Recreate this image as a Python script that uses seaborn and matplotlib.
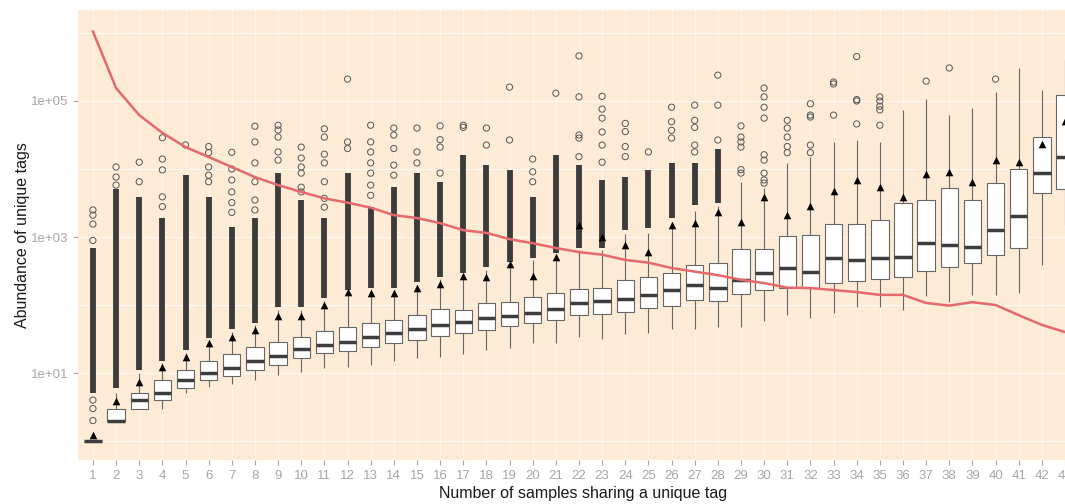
import numpy as np
import pandas as pd
import seaborn as sns
import matplotlib.pyplot as plt
from matplotlib.ticker import NullFormatter

plt.rcParams['font.family'] = ['Liberation Sans', 'DejaVu Sans']

samples = [str(i) for i in range(1, 44)]

# box statistics (per category)
whisker_low = [1, 2, 3, 3, 5, 6.3, 7, 8, 9.4, 10.5, 11.8, 12.3, 13, 14.8, 16.5, 17.4, 19, 22, 23.5, 27.6,
               27.6, 34, 32, 37, 39, 45, 45, 48, 48, 58, 71, 65, 76, 93, 93, 85, 135, 110, 141, 141,
               148, 390, 1500]
q1 = [1, 2, 3, 4, 6, 8, 9, 11, 13, 16.5, 19.6, 21, 24, 27.6, 31, 35, 39, 43, 49, 55,
      61, 71, 74, 79, 91, 97, 117, 115, 145, 166, 180, 180, 210, 225, 245, 255, 320, 360, 420, 550,
      690, 4500, 5100]
median = [1, 2, 4, 5, 8, 10, 12, 15, 18, 22.6, 26, 29, 34, 39, 45, 51, 56, 65, 69, 76,
          87, 107, 115, 123, 141, 166, 195, 180, 235, 295, 350, 310, 490, 460, 490, 510, 810, 760, 705, 1260,
          2050, 8700, 15000]
q3 = [1, 3, 5, 8, 11, 15, 19, 24, 29, 34, 41, 48, 55, 61, 71, 87, 85, 107, 110, 131,
      150, 170, 180, 235, 260, 295, 390, 420, 660, 660, 1030, 1070, 1550, 1550, 1780, 3160, 3450, 5300, 3450, 6200,
      10000, 29500, 122000]
whisker_high = [1, 5, 10, 14, 20, 30, 40, 50, 85, 85, 115, 150, 165, 165, 200, 240, 270, 330, 400, 460,
                540, 650, 650, 1100, 1150, 1600, 2400, 2900, 6500, 5200, 12300, 15000, 25000, 26700, 25000,
                74000, 107000, 62000, 79000, 135000, 306000, 145000, 400000]
mean_abundance = [1.23, 3.9, 7.4, 12.3, 17.4, 27.6, 34, 43, 69, 69, 100, 158, 150, 150, 175, 205, 270, 260, 400, 270,
                  500, 1500, 1000, 760, 600, 1500, 1600, 2300, 1660, 3900, 2100, 2900, 4800, 6900, 5500, 3900,
                  8500, 9100, 6500, 13500, 12600, 23300, 50000]

# stretches where outlier circles pile up into a solid column
dense_low = [5, 6, 11, 15, 22, 33, 45, 55, 93, 93, 126, 166, 180, 180, 220, 260, 295, 360, 430, 490,
             575, 700, 690, 1260, 1350, 1900, 2950, 3200] + [np.nan] * 15
dense_high = [700, 5000, 3900, 1900, 8100, 3900, 1400, 1900, 8700, 3500, 1900, 8700, 2750, 5400, 8700, 6500,
              16000, 11400, 9700, 3900, 16000, 11400, 6900, 7600, 9800, 12300, 12300, 20000] + [np.nan] * 15

# separate outlier circles
outliers = [
    [2, 3, 4, 890, 1550, 2100, 2500],
    [5800, 7600, 10700],
    [6500, 12600],
    [2800, 3900, 9700, 14000, 28800],
    [22600],
    [6500, 8100, 10700, 17400, 21400],
    [2300, 3200, 4600, 6900, 10000, 17600],
    [2500, 3500, 6500, 12300, 25000, 42600],
    [13500, 17800, 29500, 37500, 44000],
    [4600, 5400, 8700, 10700, 14500, 21000],
    [2750, 3700, 6500, 12300, 16500, 29500, 39000],
    [20000, 25000, 210000],
    [4100, 5800, 8700, 12300, 17800, 25000, 44000],
    [8100, 11400, 20000, 31600, 40000],
    [12300, 17800, 40000],
    [8700, 21000, 27000, 43000],
    [41000, 44000],
    [22500, 40000],
    [26700, 160000],
    [6500, 9100, 14000],
    [130000],
    [15200, 28500, 31600, 115000, 460000],
    [12600, 22500, 35000, 56000, 76000, 117000],
    [15200, 21400, 35500, 46800],
    [17800],
    [28500, 37000, 49600, 81000],
    [17800, 22500, 41000, 52000, 87000],
    [26700, 87000, 240000],
    [8700, 9800, 21000, 25000, 29500, 43000],
    [6200, 6900, 8700, 13500, 16200, 56000, 81000, 115000, 155000],
    [17400, 21400, 29500, 40000, 52000],
    [17400, 22500, 58000, 62000, 91000],
    [62000, 178000, 190000],
    [46000, 100000, 105000, 450000],
    [44000, 74000, 84000, 100000, 115000],
    [],
    [196000],
    [306000],
    [],
    [210000],
    [],
    [],
    [],
]

# red line: number of unique tags per group
unique_tags = [1050000, 155000, 62000, 34000, 21000, 15000, 10700, 7600, 5800, 4600, 3700, 3200, 2700, 2100,
               1900, 1600, 1260, 1150, 930, 810, 690, 600, 550, 460, 420, 350, 310, 275, 235, 210, 180, 178,
               166, 155, 141, 141, 107, 98, 110, 100, 71, 51, 40]

rows = []
for i, s in enumerate(samples):
    for v in (whisker_low[i], q1[i], median[i], q3[i], whisker_high[i]):
        rows.append((s, v))
box_df = pd.DataFrame(rows, columns=['samples', 'abundance'])

pos = np.arange(len(samples))
out_x = [i for i, vals in enumerate(outliers) for v in vals]
out_y = [v for vals in outliers for v in vals]

fig = plt.figure(figsize=(10.65, 5.04), dpi=100)
ax = fig.add_axes([78 / 1065, 44 / 504, 987 / 1065, 450 / 504])
ax.set_facecolor('#FDEBD5')

sns.boxplot(data=box_df, x='samples', y='abundance', order=samples, color='white',
            linecolor='#666666', linewidth=0.8, width=0.75, whis=(0, 100), showfliers=False,
            showcaps=False, log_scale=True,
            medianprops=dict(color='#3d3d3d', linewidth=2.5), ax=ax)

ax.vlines(pos, dense_low, dense_high, color='#3c3c3c', lw=4.2, zorder=3)
sns.scatterplot(x=out_x, y=out_y, marker='o', s=20, facecolor='none', edgecolor='#555555',
                linewidth=0.7, zorder=4, legend=False, ax=ax)
sns.lineplot(x=pos, y=unique_tags, color='#E5686B', linewidth=1.8, errorbar=None, zorder=5,
             legend=False, ax=ax)
sns.scatterplot(x=pos, y=mean_abundance, marker='^', s=30, color='black', linewidth=0,
                zorder=6, legend=False, ax=ax)

ax.set_xlim(-0.645, 41.82)
ax.set_ylim(10 ** -0.279, 10 ** 6.338)
ax.set_yticks([10, 1e3, 1e5])
ax.set_yticklabels(['1e+01', '1e+03', '1e+05'])
ax.set_yticks([1, 100, 1e4, 1e6], minor=True)
ax.yaxis.set_minor_formatter(NullFormatter())
ax.set_xticks(pos)
ax.set_xticklabels(samples)
ax.set_axisbelow(True)
ax.grid(True, which='both', axis='y', color='white', lw=0.8, alpha=0.8)
ax.grid(True, which='major', axis='x', color='white', lw=0.6, alpha=0.6)
ax.tick_params(which='minor', length=0)
ax.tick_params(which='major', colors='#a6a6a6', length=3.5, width=0.8, labelsize=9.5)
for sp in ax.spines.values():
    sp.set_visible(False)

ax.set_xlabel('Number of samples sharing a unique tag', fontsize=11.5, color='#1a1a1a')
ax.set_ylabel('Abundance of unique tags', fontsize=11.5, color='#1a1a1a')
ax.xaxis.set_label_coords(0.512, -0.058)
ax.yaxis.set_label_coords(-0.049, 0.5)

plt.savefig('out.png', dpi=100)
